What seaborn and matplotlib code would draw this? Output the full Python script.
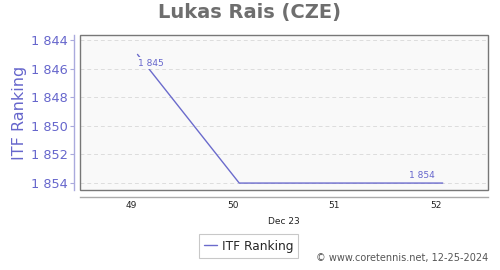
import matplotlib
matplotlib.use("Agg")
import matplotlib.pyplot as plt
import seaborn as sns
import pandas as pd
from matplotlib.patches import Rectangle

weeks = [49, 50, 52]
ranks = [1845, 1854, 1854]
week_ticks = [49, 50, 51, 52]
week_labels = ["49", "50", "51", "52"]
rank_ticks = [1844, 1846, 1848, 1850, 1852, 1854]
rank_labels = ["1 844", "1 846", "1 848", "1 850", "1 852", "1 854"]
series_name = "ITF Ranking"
title = "Lukas Rais (CZE)"
month_label = "Dec 23"
credit = "© www.coretennis.net, 12-25-2024"

offset = 0.065
df = pd.DataFrame({"week": [w + offset for w in weeks], "rank": ranks, "series": series_name})

sns.set_style("white")
plt.rcParams['font.family'] = ['DejaVu Sans']

line_color = "#6b6bcc"
label_color = "#6666cc"

fig = plt.figure(figsize=(5, 2.7), dpi=100)
ax = fig.add_axes([0.16, 0.296, 0.816, 0.574])
ax.set_facecolor("#f9f9f9")

sns.lineplot(data=df, x="week", y="rank", hue="series", palette=[line_color],
             ax=ax, linewidth=1.0, legend=True)

ax.set_xlim(48.5, 52.51)
ax.set_ylim(1854.49, 1843.65)

ax.set_yticks(rank_ticks, labels=rank_labels)
ax.set_xticks(week_ticks, labels=week_labels)
ax.set_xticks([49.5, 50.5, 51.5], minor=True)
ax.tick_params(axis="x", which="major", length=0, pad=3, labelsize=6.5, labelcolor="#222222")
ax.tick_params(axis="x", which="minor", length=11, width=0.8, color="#888888", direction="out")
ax.tick_params(axis="y", which="major", length=3, width=0.8, color="#aaaadd", pad=2,
               direction="out", left=True, labelsize=9.3, labelcolor=label_color)

for y in rank_ticks:
    ax.axhline(y, color="#dddddd", lw=0.7, ls=(0, (4, 3)), zorder=0)

for s in ["top", "right"]:
    ax.spines[s].set_visible(False)
ax.spines["left"].set_position(("outward", 4))
ax.spines["left"].set_color("#aaaadd")
ax.spines["left"].set_linewidth(1.0)
ax.spines["bottom"].set_position(("outward", 5))
ax.spines["bottom"].set_color("#aaaaaa")
ax.spines["bottom"].set_linewidth(1.0)

ax.add_patch(Rectangle((0, 0), 1, 1, transform=ax.transAxes, fill=False,
                       edgecolor="#777777", lw=1.0, clip_on=False, zorder=5))

ax.set_ylabel(series_name, color=label_color, fontsize=11.5)
ax.yaxis.set_label_coords(-0.13, 0.5)
ax.set_xlabel(month_label, fontsize=6.5, color="#222222", labelpad=0)

# data labels
ax.text(weeks[0] + offset + 0.13, ranks[0] + 0.62, "1 845", fontsize=6.5, color=label_color,
        ha="center", va="center", zorder=6,
        bbox=dict(boxstyle="square,pad=0.15", fc="#f9f9f9", ec="none"))
ax.text(weeks[-1] + offset - 0.2, ranks[-1] - 0.55, "1 854", fontsize=6.5, color=label_color,
        ha="center", va="center", zorder=6)

fig.suptitle(title, x=0.5, y=0.99, fontsize=14, fontweight="bold", color="#6e6e6e")

leg = ax.legend(loc="center", bbox_to_anchor=(0.413, -0.361), frameon=True,
                fontsize=8.7, handlelength=1.1, handletextpad=0.35, borderpad=0.45,
                fancybox=False, edgecolor="#bbbbbb")
leg.get_frame().set_linewidth(0.8)

fig.text(0.976, 0.025, credit, ha="right", va="bottom", fontsize=7, color="#555555")

fig.savefig("out.png", dpi=100, facecolor="white")
